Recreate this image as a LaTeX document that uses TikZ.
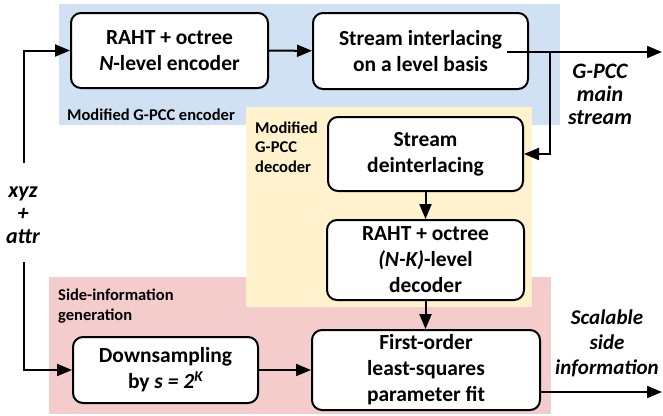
\documentclass[tikz,border=0pt]{standalone}
\usepackage{fontspec}
\setmainfont{Carlito}
\usepackage{tikz}
\usetikzlibrary{positioning}
\usetikzlibrary{arrows.meta}

\definecolor{encblue}{RGB}{207,225,242}
\definecolor{decyellow}{RGB}{255,242,204}
\definecolor{sidepink}{RGB}{244,204,204}

\begin{document}
\begin{tikzpicture}[
        x=1pt, y=-1pt,
        box/.style={
            rectangle,
            draw,
            line width=2pt,
            rounded corners=10pt,
            fill=white,
            align=center,
            inner sep=0pt,
            font=\bfseries\fontsize{21.5}{26}\selectfont
        },
        arrow/.style={
            -{Triangle[length=15pt,width=12pt]},
            line width=2pt
        },
        region/.style={
            align=left,
            anchor=west,
            inner sep=0pt,
            font=\bfseries\fontsize{16.5}{19.5}\selectfont
        },
        signal/.style={
            align=center,
            inner sep=0pt,
            font=\bfseries\itshape\fontsize{22}{23}\selectfont
        }
    ]
    \useasboundingbox (0,0) rectangle (663,415);

    % Regions
    \fill[encblue] (59,4) rectangle (560,125);
    \fill[sidepink] (49,277) rectangle (551,414);
    \fill[decyellow] (246,107) rectangle (532,307);

    \node[region] (enclabel) at (67,115) {Modified G-PCC encoder};
    \node[region] (declabel) at (255,147) {Modified\\G-PCC\\decoder};
    \node[region] (sidelabel) at (58,306) {Side-information\\generation};

    % Nodes
    \node[box, minimum width=197pt, minimum height=75pt] (enc) at (169.5,50.5) {RAHT + octree\\\textit{N}-level encoder};
    \node[box, minimum width=215pt, minimum height=76pt] (inter) at (420.5,51) {Stream interlacing\\on a level basis};
    \node[box, minimum width=195pt, minimum height=74pt] (deint) at (425.5,154) {Stream\\deinterlacing};
    \node[box, minimum width=197pt, minimum height=80pt] (dec) at (425.5,260) {RAHT + octree\\\textit{(N-K)}-level\\decoder};
    \node[box, minimum width=228pt, minimum height=80pt] (fit) at (426,370) {First-order\\least-squares\\parameter fit};
    \node[box, minimum width=185pt, minimum height=66pt] (down) at (165.5,370) {Downsampling\\by \textit{s = 2\textsuperscript{K}}};

    \node[signal] (src) at (23,215) {xyz\\+\\attr};
    \node[signal] (mainlbl) at (600,94) {G-PCC\\main\\stream};
    \node[signal, font=\bfseries\itshape\fontsize{21}{25}\selectfont] (sidelbl) at (607,343) {Scalable\\side\\information};

    \coordinate (in1) at (24,163);
    \coordinate (in2) at (24,262);
    \coordinate (tap) at (507,52);
    \coordinate (split) at (550,52);
    \coordinate (out1) at (662,52);
    \coordinate (out2) at (662,392);

    % Arrows
    \draw[arrow] (in1) |- (enc.west);
    \draw[arrow] (in2) |- (down.west);
    \draw[arrow] (enc) -- (inter);
    \draw[arrow] (tap) -- (out1);
    \draw[arrow] (split) |- (deint.east);
    \draw[arrow] (deint) -- (dec);
    \draw[arrow] (dec.south) -- (dec.south |- fit.north);
    \draw[arrow] (down) -- (down -| fit.west);
    \draw[arrow] (fit.east |- out2) -- (out2);

\end{tikzpicture}
\end{document}
